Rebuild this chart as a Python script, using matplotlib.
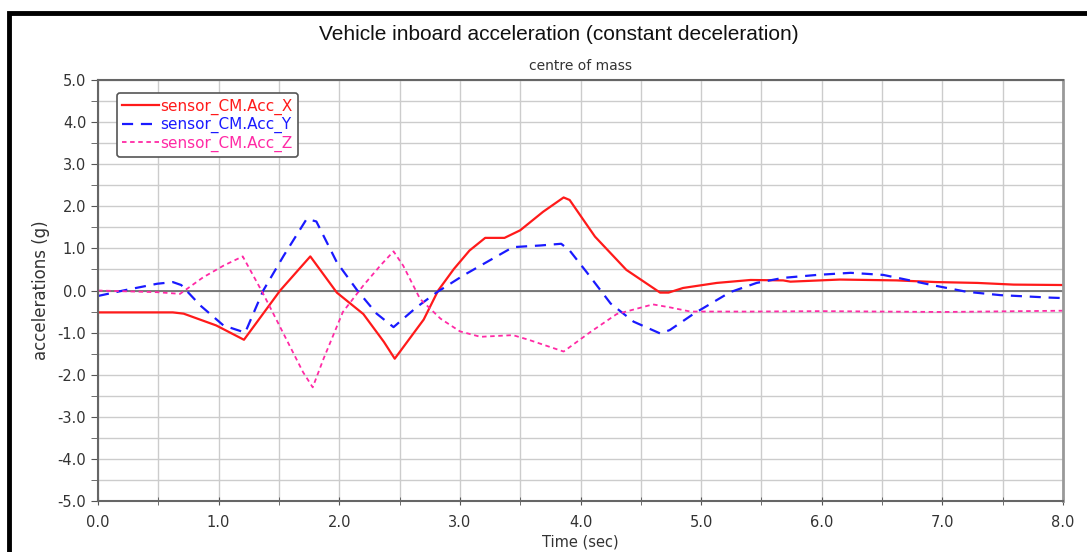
import matplotlib
matplotlib.use("Agg")
import matplotlib.pyplot as plt
import matplotlib.patches as patches
import numpy as np

plt.rcParams["font.family"] = ["DejaVu Sans"]

# sensor_CM.Acc_X
t_x = [0.0, 0.62, 0.71, 0.98, 1.21, 1.51, 1.76, 1.98, 2.2, 2.37, 2.46, 2.70, 2.82,
       2.95, 3.08, 3.21, 3.37, 3.50, 3.69, 3.86, 3.91, 4.12, 4.38, 4.66, 4.73,
       4.85, 5.13, 5.41, 5.68, 5.74, 6.15, 6.62, 6.95, 7.29, 7.59, 8.0]
acc_x = [-0.52, -0.52, -0.55, -0.83, -1.17, 0.0, 0.81, -0.05, -0.56, -1.22, -1.62,
         -0.69, 0.0, 0.51, 0.95, 1.25, 1.25, 1.43, 1.87, 2.21, 2.15, 1.28, 0.49,
         -0.05, -0.05, 0.06, 0.18, 0.25, 0.24, 0.21, 0.26, 0.24, 0.20, 0.18, 0.14,
         0.13]

# sensor_CM.Acc_Y
t_y = [0.0, 0.21, 0.49, 0.62, 0.69, 0.85, 1.04, 1.22, 1.37, 1.54, 1.73, 1.81, 1.98,
       2.15, 2.31, 2.45, 2.64, 2.81, 3.03, 3.25, 3.44, 3.67, 3.84, 3.91, 4.05,
       4.25, 4.44, 4.66, 4.74, 4.94, 5.24, 5.46, 5.68, 5.96, 6.24, 6.51, 6.68,
       6.93, 7.2, 7.48, 7.9, 8.0]
acc_y = [-0.13, 0.0, 0.16, 0.2, 0.13, -0.36, -0.83, -1.0, 0.0, 0.83, 1.70, 1.64,
         0.67, 0.0, -0.55, -0.87, -0.40, -0.04, 0.36, 0.72, 1.03, 1.07, 1.11, 0.95,
         0.44, -0.31, -0.74, -1.02, -0.94, -0.55, -0.04, 0.18, 0.30, 0.37, 0.42,
         0.37, 0.27, 0.12, -0.03, -0.11, -0.17, -0.18]

# sensor_CM.Acc_Z
t_z = [0.0, 0.49, 0.68, 0.87, 1.04, 1.2, 1.37, 1.56, 1.70, 1.78, 1.87, 2.03, 2.2,
       2.34, 2.45, 2.53, 2.67, 2.84, 3.0, 3.17, 3.44, 3.58, 3.86, 4.08, 4.3,
       4.6, 4.74, 4.91, 5.41, 6.0, 7.0, 8.0]
acc_z = [0.0, -0.04, -0.08, 0.31, 0.59, 0.81, -0.08, -1.15, -1.94, -2.30, -1.62,
         -0.51, 0.12, 0.59, 0.93, 0.59, -0.2, -0.67, -0.97, -1.1, -1.06, -1.18,
         -1.45, -0.99, -0.56, -0.33, -0.40, -0.5, -0.5, -0.49, -0.51, -0.48]

fig = plt.figure(figsize=(10.87, 5.52), dpi=100)
ax = fig.add_axes([98 / 1087, 1 - 501 / 552, 965 / 1087, 421 / 552])

# black frame around the chart
fig.patches.append(patches.Rectangle((9 / 1087, -0.1), 1.2, 1.1 - 13 / 552,
                                     transform=fig.transFigure, fill=False,
                                     edgecolor="black", linewidth=3.5))

ax.set_xlim(0, 8)
ax.set_ylim(-5, 5)
ax.set_xticks(np.arange(0, 8.01, 1.0))
ax.set_xticks(np.arange(0, 8.01, 0.5), minor=True)
ax.set_yticks(np.arange(-5, 5.01, 1.0))
ax.set_yticks(np.arange(-5, 5.01, 0.5), minor=True)
ax.set_xticklabels([f"{v:.1f}" for v in np.arange(0, 8.01, 1.0)])
ax.set_yticklabels([f"{v:.1f}" for v in np.arange(-5, 5.01, 1.0)])
ax.grid(True, which="both", color="#cccccc", linewidth=1.0)
ax.set_axisbelow(True)
ax.axhline(0, color="#666666", linewidth=1.2, zorder=1.5)

ax.tick_params(which="both", length=5, color="#555555", labelcolor="#333333",
               labelsize=10.5)
ax.tick_params(axis="x", which="both", direction="inout", length=6, pad=7)
for s in ["left", "bottom", "top"]:
    ax.spines[s].set_color("#666666")
    ax.spines[s].set_linewidth(1.5)
ax.spines["right"].set_color("#999999")
ax.spines["right"].set_linewidth(2)

ax.plot(t_x, acc_x, color="#ff1a1a", linewidth=1.6, label="sensor_CM.Acc_X")
ax.plot(t_y, acc_y, color="#1a1aff", linewidth=1.6, dashes=(5, 3.5),
        label="sensor_CM.Acc_Y")
ax.plot(t_z, acc_z, color="#ff2aa5", linewidth=1.3, dashes=(2.5, 2),
        label="sensor_CM.Acc_Z")

ax.set_xlabel("Time (sec)", fontsize=10.5, color="#333333", labelpad=3)
ax.set_ylabel("accelerations (g)", fontsize=12, color="#333333", labelpad=5)
ax.set_title("centre of mass", fontsize=10, color="#333333", pad=7)
fig.text(559 / 1087, 1 - 34 / 552, "Vehicle inboard acceleration (constant deceleration)",
         ha="center", va="center", fontsize=15, color="#111111",
         family=["Liberation Sans", "DejaVu Sans"])

leg = ax.legend(loc="upper left", bbox_to_anchor=(0.0197, 0.969), borderaxespad=0,
                fontsize=11, labelcolor="linecolor", handlelength=2.4,
                handletextpad=0.1, labelspacing=0.15, borderpad=0.35,
                fancybox=True, framealpha=1, edgecolor="#555555")
leg.get_frame().set_linewidth(1.2)

fig.savefig("out.png", dpi=100)
